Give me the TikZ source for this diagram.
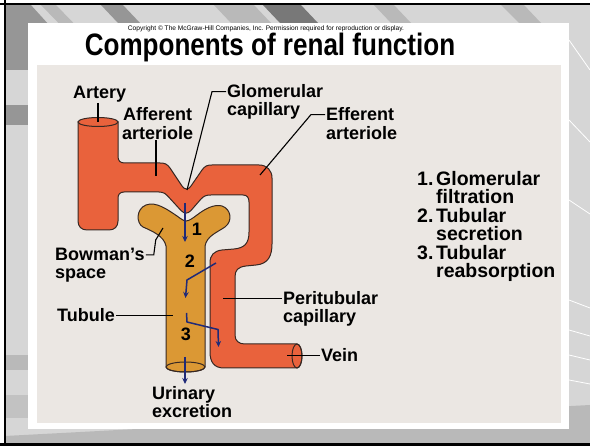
\documentclass[tikz,border=0pt]{standalone}
\usepackage{fontspec}
\setmainfont{Liberation Sans}
\usetikzlibrary{arrows.meta}
\definecolor{panelbeige}{RGB}{235,231,227}
\definecolor{backgray}{RGB}{214,214,214}
\definecolor{banddark}{RGB}{150,150,150}
\definecolor{bandmid}{RGB}{185,185,185}
\definecolor{vesselred}{RGB}{233,98,60}
\definecolor{tubuleochre}{RGB}{219,152,52}
\definecolor{flowblue}{RGB}{32,42,120}
\definecolor{outline}{RGB}{55,40,35}
\begin{document}
\begin{tikzpicture}[x=1pt,y=-1pt,
  lbl/.style={font=\bfseries\fontsize{18}{19}\selectfont, inner sep=0pt, anchor=base west},
  lst/.style={font=\bfseries\fontsize{19.5}{19.5}\selectfont, inner sep=0pt, anchor=base west},
  num/.style={font=\bfseries\fontsize{18}{18}\selectfont, inner sep=0pt},
  leader/.style={draw=black, line width=1.1pt},
  flow/.style={draw=flowblue, line width=1.5pt, -{Stealth[length=6pt,width=5.5pt]}},
  vesselbody/.style={fill=vesselred, draw=outline, line width=1pt},
  tubulebody/.style={fill=tubuleochre, draw=outline, line width=1pt},
]
\useasboundingbox (0,0) rectangle (590,446);

% ---- slide backdrop ----
\fill[white] (0,0) rectangle (590,446);
\fill[backgray] (5,4) rectangle (590,445);
\begin{scope}
  \clip (5,4) rectangle (590,445);
  \fill[banddark] (5,4) -- (30,4) -- (90,70) -- (5,70) -- cycle;
  \fill[bandmid] (40,4) -- (55,4) -- (90,40) -- (75,40) -- cycle;
  \fill[banddark] (100,4) -- (122,4) -- (140,23) -- (118,23) -- cycle;
  \fill[bandmid] (213,4) -- (253,4) -- (271,23) -- (231,23) -- cycle;
  \fill[banddark!80!black] (262,4) -- (300,4) -- (318,23) -- (280,23) -- cycle;
  \fill[bandmid] (373,4) -- (393,4) -- (411,23) -- (391,23) -- cycle;
  \fill[bandmid] (500,4) -- (523,4) -- (541,23) -- (519,23) -- cycle;
  \fill[banddark] (5,105) rectangle (28,125);
  \fill[bandmid] (5,355) rectangle (28,370);
  \fill[bandmid!70!backgray] (5,395) rectangle (28,418);
  \fill[bandmid] (5,445) -- (5,436) -- (590,405) -- (590,445) -- cycle;
  \foreach \yy/\dy in {40/30, 120/22, 200/14, 300/8, 330/6, 355/5, 380/4}
    \draw[white, line width=0.8pt] (569,\yy) -- (590,\yy+\dy);
\end{scope}
\draw[black, line width=2pt] (5,0) -- (5,446);
\draw[black, line width=2pt] (0,4) -- (590,4);
\draw[black, line width=3pt] (0,444.5) -- (590,444.5);

% ---- white slide and beige figure panel ----
\fill[white] (28,23) rectangle (569,429);
\fill[panelbeige] (37,65) rectangle (561,423);

% ---- heading ----
\node[inner sep=0pt, anchor=base, font=\fontsize{6.6}{7}\selectfont] (copyright) at (266,30.5)
  {Copyright \textcopyright\ The McGraw-Hill Companies, Inc. Permission required for reproduction or display.};
\node[inner sep=0pt, anchor=base] (title) at (270,55.5)
  {\scalebox{0.84}[1]{\bfseries\fontsize{31}{31}\selectfont Components of renal function}};

% ---- blood vessels: artery, afferent arteriole, glomerulus, efferent arteriole, peritubular capillary, vein ----
\path[vesselbody] (78,122) -- (78,221) .. controls (78,226.5) and (81.5,230) .. (87,230)
  -- (109,230) .. controls (114.5,230) and (118,226.5) .. (118,221)
  -- (118,198) .. controls (118,194.5) and (120,192) .. (124,192)
  -- (159,192) .. controls (164,192) and (166,194) .. (170,198.5)
  -- (181,210.5) .. controls (184.5,214) and (187.5,214) .. (191,210.5)
  -- (201,199) .. controls (204,196) and (206,195) .. (211,195)
  -- (243,195) .. controls (247,195) and (249,197.5) .. (249,202)
  -- (249,232) .. controls (249,244) and (244,248) .. (234,249)
  -- (222,250) .. controls (214,251) and (210,255) .. (210,263)
  -- (210,352) .. controls (210,362) and (214,368) .. (224,368)
  -- (297,368) arc[start angle=90, end angle=-90, x radius=5, y radius=12]
  -- (245,344) .. controls (239,344) and (235,341) .. (235,335)
  -- (235,277) .. controls (235,270) and (238,267) .. (246,266)
  -- (256,265) .. controls (268,264) and (272,256) .. (272,244)
  -- (272,178) .. controls (272,170.5) and (267,165) .. (259,165)
  -- (212,165) .. controls (207,165) and (205,166) .. (202,170)
  -- (191,186) .. controls (188.5,190) and (184.5,190) .. (182,186)
  -- (170,168) .. controls (167,164) and (165,163) .. (160,163)
  -- (125,163) .. controls (120,163) and (118,161) .. (118,156)
  -- (118,122) -- cycle;
\draw[vesselbody] (98,122) ellipse [x radius=20, y radius=4.5];
\draw[outline, line width=1pt] (297,356) ellipse [x radius=5, y radius=12];

% ---- Bowman's capsule and tubule ----
\path[tubulebody] (166,367) -- (166,246)
  .. controls (164,236) and (152,231) .. (143,227)
  .. controls (136,223) and (136,209) .. (146,205)
  .. controls (156,201) and (168,210) .. (177,216)
  .. controls (181,219) and (184,221) .. (186,221)
  .. controls (189,221) and (193,218) .. (197,215)
  .. controls (206,208) and (215,204) .. (222,206)
  .. controls (231,209) and (233,221) .. (225,227)
  .. controls (216,233) and (207,236) .. (205,246)
  -- (205,367) arc[start angle=0, end angle=180, x radius=19.5, y radius=5] -- cycle;
\draw[outline, line width=1pt] (185.5,367) ellipse [x radius=19.5, y radius=5];

% ---- process numbers ----
\node[num] (n1) at (197,229) {1};
\node[num] (n2) at (190,261) {2};
\node[num] (n3) at (186,334) {3};

% ---- flow arrows ----
\coordinate (f1a) at (185,203);
\coordinate (f1b) at (185,242);
\coordinate (f2a) at (216,263);
\coordinate (f2b) at (187,280);
\coordinate (f2c) at (185.5,298);
\coordinate (f3a) at (186.5,313);
\coordinate (f3b) at (187,322);
\coordinate (f3c) at (218,329.5);
\coordinate (f3d) at (218.5,347);
\coordinate (f4a) at (185,357);
\coordinate (f4b) at (185,384);
\draw[flow] (f1a) -- (f1b);
\draw[flow] (f2a) -- (f2b) -- (f2c);
\draw[flow] (f3a) -- (f3b) -- (f3c) -- (f3d);
\draw[flow] (f4a) -- (f4b);

% ---- labels ----
\node[lbl] (artlab) at (73,99) {Artery};
\node[lbl] (aff1) at (123,121) {Afferent};
\node[lbl] (aff2) at (122,140) {arteriole};
\node[lbl] (glom1) at (227,98) {Glomerular};
\node[lbl] (glom2) at (227,116) {capillary};
\node[lbl] (eff1) at (326,121) {Efferent};
\node[lbl] (eff2) at (326,140) {arteriole};
\node[lbl] (bow1) at (55,261) {Bowman’s};
\node[lbl] (bow2) at (55,279) {space};
\node[lbl] (tublab) at (57,322) {Tubule};
\node[lbl] (peri1) at (283,305) {Peritubular};
\node[lbl] (peri2) at (283,323) {capillary};
\node[lbl] (veinlab) at (321,362) {Vein};
\node[lbl] (uri1) at (152,400) {Urinary};
\node[lbl] (uri2) at (152,418) {excretion};

% ---- leader lines ----
\coordinate (artend) at (98,122);
\coordinate (affend) at (156,176);
\coordinate (glomend) at (187,190);
\coordinate (effend) at (260,175);
\coordinate (bowend) at (163,228);
\coordinate (tubend) at (173,316);
\coordinate (periend) at (223,301);
\coordinate (veinend) at (287,356);
\draw[leader] (artlab.south -| artend) -- (artend);
\draw[leader] (aff2.south -| affend) -- (affend);
\draw[leader] ([xshift=-1pt]glom1.west) -- ++(-14,0) -- (glomend);
\draw[leader] ([xshift=-1pt]eff1.west) -- ++(-14,0) -- (effend);
\draw[leader] ([xshift=1pt]bow1.east) -- ++(8,0) -- ++(2,-15) -- (bowend);
\draw[leader] ([xshift=1pt]tublab.east) -- (tublab.east -| tubend);
\draw[leader] ([xshift=-1pt]peri1.west) -- (peri1.west -| periend);
\draw[leader] ([xshift=-1pt]veinlab.west) -- (veinlab.west -| veinend);

% ---- numbered list of processes ----
\node[lst] (l1n) at (417,186) {1.};
\node[lst] (l1a) at (436,186) {Glomerular};
\node[lst] (l1b) at (436,204) {filtration};
\node[lst] (l2n) at (417,223) {2.};
\node[lst] (l2a) at (436,223) {Tubular};
\node[lst] (l2b) at (436,241) {secretion};
\node[lst] (l3n) at (417,260) {3.};
\node[lst] (l3a) at (436,260) {Tubular};
\node[lst] (l3b) at (436,278) {reabsorption};
\end{tikzpicture}
\end{document}
